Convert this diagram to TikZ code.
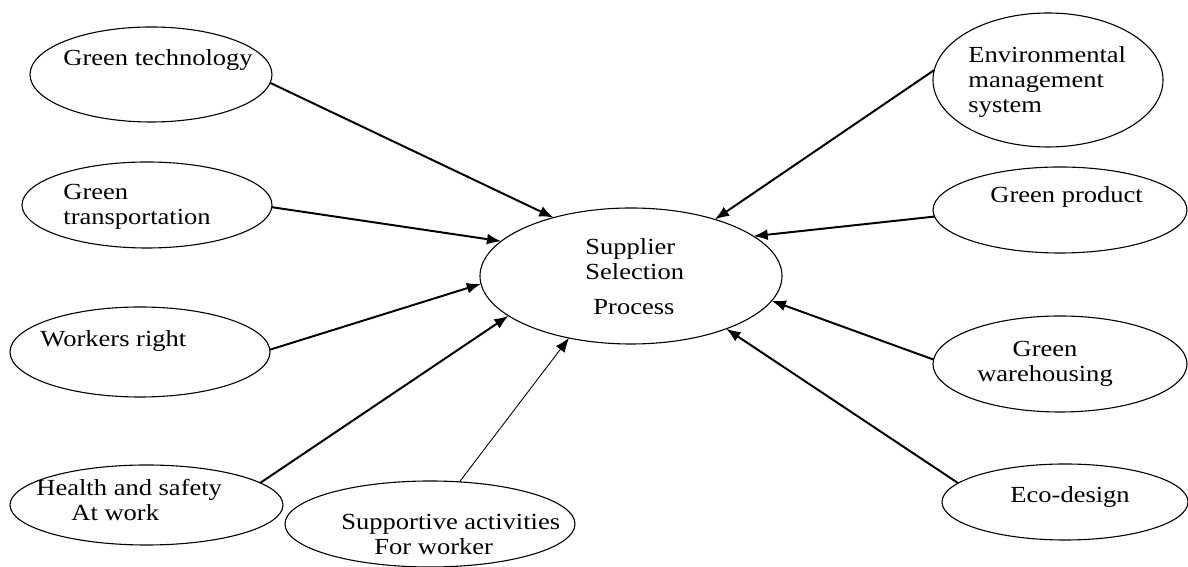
\documentclass[tikz,border=0pt]{standalone}
\usepackage{fontspec}
\setmainfont{Liberation Serif}[FakeStretch=1.15]
\usetikzlibrary{arrows.meta, shapes.geometric}
\newdimen\pxu \pxu=0.016cm
\tikzset{>={Latex[length=6.5pt,width=5pt]},
  bubble/.style={draw, ellipse, line width=0.5pt, inner sep=0pt, outer sep=0pt},
  lbl/.style={anchor=base west, inner sep=0pt, align=left, font=\fontsize{10.5}{11.5}\selectfont},
  conn/.style={->, line width=0.9pt},
  thinconn/.style={->, line width=0.4pt}
}

\begin{document}
\begin{tikzpicture}[x=\pxu, y=-\pxu]
\useasboundingbox (0,0) rectangle (1188,567);
% centre
\node[bubble, minimum width=302\pxu, minimum height=136\pxu] (ssp) at (631,276) {};
\node[lbl] (ssp-t) at (585,315) {Supplier\\Selection\\[4.5pt]\hspace*{8\pxu}Process};
% left side
\node[bubble, minimum width=242\pxu, minimum height=95\pxu] (gt) at (151,74.5) {};
\node[lbl] (gt-t) at (63,66) {Green technology};
\node[bubble, minimum width=250\pxu, minimum height=86\pxu] (gtr) at (147,205) {};
\node[lbl] (gtr-t) at (63,225) {Green\\transportation};
\node[bubble, minimum width=260\pxu, minimum height=90\pxu] (wr) at (140,352) {};
\node[lbl] (wr-t) at (40,347) {Workers right};
\node[bubble, minimum width=273\pxu, minimum height=80\pxu] (hs) at (146.5,505) {};
\node[lbl] (hs-t) at (36,521) {Health and safety\\\hspace*{35\pxu}At work};
\node[bubble, minimum width=290\pxu, minimum height=86\pxu] (sa) at (430,524) {};
\node[lbl] (sa-t) at (341,555) {Supportive activities\\\hspace*{33\pxu}For worker};
% right side
\node[bubble, minimum width=230\pxu, minimum height=134\pxu] (ems) at (1048,80) {};
\node[lbl] (ems-t) at (968,113) {Environmental\\management\\system};
\node[bubble, minimum width=254\pxu, minimum height=86\pxu] (gp) at (1060,210) {};
\node[lbl] (gp-t) at (990,203) {Green product};
\node[bubble, minimum width=254\pxu, minimum height=96\pxu] (gw) at (1060,364) {};
\node[lbl, anchor=base, align=center] (gw-t) at (1045,382) {Green\\warehousing};
\node[bubble, minimum width=246\pxu, minimum height=76\pxu] (ed) at (1065,502) {};
\node[lbl] (ed-t) at (1010,503) {Eco-design};
% arrows into the process
\draw[conn] (gt.-4) -- (ssp.143);
\draw[conn] (gtr.-1) -- (ssp.165);
\draw[conn] (wr.1) -- (ssp.183);
\draw[conn] (hs.11) -- (ssp.198);
\draw[thinconn] (sa.55) -- (ssp.225);
\draw[conn] (ems.175) -- (ssp.34);
\draw[conn] (gp.183) -- (ssp.18);
\draw[conn] (gw.178) -- (ssp.-10);
\draw[conn] (ed.170) -- (ssp.-29);
\end{tikzpicture}
\end{document}
